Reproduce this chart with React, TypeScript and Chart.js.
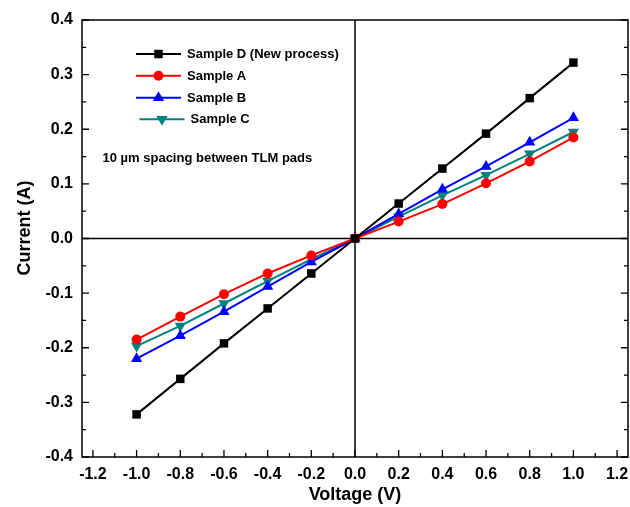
import React, { useEffect, useRef } from "react";
import { Chart, registerables } from "chart.js";

Chart.register(...registerables);

const voltage = [-1.0, -0.8, -0.6, -0.4, -0.2, 0, 0.2, 0.4, 0.6, 0.8, 1.0];
const sampleD = [-0.322, -0.257, -0.192, -0.128, -0.064, 0, 0.064, 0.128, 0.192, 0.257, 0.322];
const sampleA = [-0.185, -0.143, -0.102, -0.064, -0.031, 0, 0.031, 0.063, 0.101, 0.141, 0.185];
const sampleB = [-0.22, -0.178, -0.134, -0.088, -0.043, 0, 0.045, 0.09, 0.132, 0.176, 0.221];
const sampleC = [-0.197, -0.16, -0.119, -0.078, -0.038, 0, 0.04, 0.079, 0.116, 0.155, 0.195];

const xTicks = [-1.2, -1.0, -0.8, -0.6, -0.4, -0.2, 0, 0.2, 0.4, 0.6, 0.8, 1.0, 1.2];
const yTicks = [-0.4, -0.3, -0.2, -0.1, 0, 0.1, 0.2, 0.3, 0.4];
const xMinor = [-1.1, -0.9, -0.7, -0.5, -0.3, -0.1, 0.1, 0.3, 0.5, 0.7, 0.9, 1.1];
const yMinor = [-0.35, -0.25, -0.15, -0.05, 0.05, 0.15, 0.25, 0.35];

const seriesNames = ["Sample D (New process)", "Sample A", "Sample B", "Sample C"];
const seriesColors = ["#000000", "#ff0000", "#0000ff", "#008080"];
const seriesValues = [sampleD, sampleA, sampleB, sampleC];
const seriesStyles = ["rect", "circle", "triangle", "triangle"];
const seriesRotation = [0, 0, 0, 180];
const seriesRadius = [6, 5, 6.5, 6.5];

const xTitle = "Voltage (V)";
const yTitle = "Current (A)";
const note = "10 \u00b5m spacing between TLM pads";

const FONT = "'Liberation Sans', Arial, Helvetica, sans-serif";

function drawMarker(ctx: CanvasRenderingContext2D, style: string, x: number, y: number, r: number, rot: number, color: string) {
  ctx.save();
  ctx.fillStyle = color;
  ctx.translate(x, y);
  ctx.rotate((rot * Math.PI) / 180);
  ctx.beginPath();
  if (style === "rect") {
    const s = r / Math.SQRT2;
    ctx.rect(-s, -s, 2 * s, 2 * s);
  } else if (style === "circle") {
    ctx.arc(0, 0, r, 0, Math.PI * 2);
  } else {
    const a = (2 * Math.PI) / 3;
    for (let i = 0; i < 3; i++) {
      const ang = -Math.PI / 2 + i * a;
      const px = Math.cos(ang) * r;
      const py = Math.sin(ang) * r;
      if (i === 0) ctx.moveTo(px, py);
      else ctx.lineTo(px, py);
    }
    ctx.closePath();
  }
  ctx.fill();
  ctx.restore();
}

const framePlugin = {
  id: "frame",
  beforeDatasetsDraw(chart: any) {
    const { ctx, chartArea, scales } = chart;
    const x0 = scales.x.getPixelForValue(0);
    const y0 = scales.y.getPixelForValue(0);
    ctx.save();
    ctx.strokeStyle = "#000";
    ctx.lineWidth = 1.5;
    ctx.beginPath();
    ctx.moveTo(chartArea.left, y0);
    ctx.lineTo(chartArea.right, y0);
    ctx.moveTo(x0, chartArea.top);
    ctx.lineTo(x0, chartArea.bottom);
    ctx.stroke();
    ctx.restore();
  },
  afterDraw(chart: any) {
    const { ctx, chartArea, scales } = chart;
    const { left, right, top, bottom } = chartArea;
    ctx.save();
    ctx.strokeStyle = "#000";
    ctx.lineWidth = 1.5;
    ctx.strokeRect(left, top, right - left, bottom - top);
    ctx.lineWidth = 1.3;
    ctx.beginPath();
    xTicks.forEach((v) => {
      const px = scales.x.getPixelForValue(v);
      ctx.moveTo(px, bottom);
      ctx.lineTo(px, bottom - 7);
    });
    xMinor.forEach((v) => {
      const px = scales.x.getPixelForValue(v);
      ctx.moveTo(px, bottom);
      ctx.lineTo(px, bottom - 4);
    });
    yTicks.forEach((v) => {
      const py = scales.y.getPixelForValue(v);
      ctx.moveTo(left, py);
      ctx.lineTo(left + 7, py);
      ctx.moveTo(right, py);
      ctx.lineTo(right - 7, py);
    });
    yMinor.forEach((v) => {
      const py = scales.y.getPixelForValue(v);
      ctx.moveTo(left, py);
      ctx.lineTo(left + 4, py);
      ctx.moveTo(right, py);
      ctx.lineTo(right - 4, py);
    });
    ctx.stroke();

    ctx.fillStyle = "#000";
    // x tick labels
    ctx.font = `bold 16px ${FONT}`;
    ctx.textAlign = "center";
    ctx.textBaseline = "top";
    xTicks.forEach((v) => {
      ctx.fillText(v.toFixed(1), scales.x.getPixelForValue(v), bottom + 10);
    });

    // axis titles
    ctx.font = `bold 18px ${FONT}`;
    ctx.textAlign = "center";
    ctx.textBaseline = "alphabetic";
    ctx.fillText(xTitle, scales.x.getPixelForValue(0), 500);
    ctx.save();
    ctx.translate(29.5, 228);
    ctx.rotate(-Math.PI / 2);
    ctx.fillText(yTitle, 0, 0);
    ctx.restore();

    // legend
    const rowsY = [54, 75.8, 97.7, 119.3];
    const rowsShift = [0, 0, 0, 3.5];
    ctx.font = `bold 13px ${FONT}`;
    ctx.textAlign = "left";
    ctx.textBaseline = "middle";
    seriesNames.forEach((name, i) => {
      const y = rowsY[i];
      const sx = rowsShift[i];
      ctx.strokeStyle = seriesColors[i];
      ctx.lineWidth = 2;
      ctx.beginPath();
      ctx.moveTo(136 + sx, y);
      ctx.lineTo(181 + sx, y);
      ctx.stroke();
      drawMarker(ctx, seriesStyles[i], 158.5 + sx, y, seriesRadius[i], seriesRotation[i], seriesColors[i]);
      ctx.fillStyle = "#000";
      ctx.fillText(name, 187 + sx, y + 0.5);
    });

    ctx.fillText(note, 102.5, 158);
    ctx.restore();
  },
};

export default function App() {
  const ref = useRef<HTMLCanvasElement | null>(null);
  useEffect(() => {
    document.body.style.margin = "0";
    const canvas = ref.current;
    if (!canvas) return;
    const datasets = seriesNames.map((name, i) => ({
      label: name,
      data: voltage.map((v, j) => ({ x: v, y: seriesValues[i][j] })),
      borderColor: seriesColors[i],
      backgroundColor: seriesColors[i],
      borderWidth: 2,
      pointStyle: seriesStyles[i] as any,
      pointRadius: seriesRadius[i],
      pointRotation: seriesRotation[i],
      pointBorderWidth: 0,
      pointBackgroundColor: seriesColors[i],
      fill: false,
      tension: 0,
      clip: false as any,
    }));
    const chart = new Chart(canvas, {
      type: "line",
      data: { datasets },
      plugins: [framePlugin],
      options: {
        animation: false,
        responsive: false,
        maintainAspectRatio: false,
        layout: { autoPadding: false, padding: { top: 20, right: 2, left: 0, bottom: 0 } },
        plugins: { legend: { display: false }, tooltip: { enabled: false } },
        scales: {
          x: {
            type: "linear",
            min: -1.25,
            max: 1.25,
            grid: { display: false, drawTicks: false },
            border: { display: false },
            afterBuildTicks: (s: any) => {
              s.ticks = xTicks.map((v) => ({ value: v }));
            },
            afterFit: (s: any) => {
              s.height = 50;
              s.paddingLeft = 0;
              s.paddingRight = 0;
            },
            ticks: { display: false },
          },
          y: {
            type: "linear",
            min: -0.4,
            max: 0.4,
            grid: { display: false, drawTicks: false },
            border: { display: false },
            afterBuildTicks: (s: any) => {
              s.ticks = yTicks.map((v) => ({ value: v }));
            },
            afterFit: (s: any) => {
              s.width = 82;
              s.paddingTop = 0;
              s.paddingBottom = 0;
            },
            ticks: {
              autoSkip: false,
              padding: 9,
              color: "#000",
              font: { family: FONT, size: 16, weight: "bold" },
              callback: (v: any) => Number(v).toFixed(1),
            },
          },
        },
      },
    });
    return () => chart.destroy();
  }, []);
  return (
    <div style={{ position: "absolute", left: 0, top: 0, width: 630, height: 507, background: "#fff" }}>
      <canvas ref={ref} width={630} height={507} />
    </div>
  );
}
